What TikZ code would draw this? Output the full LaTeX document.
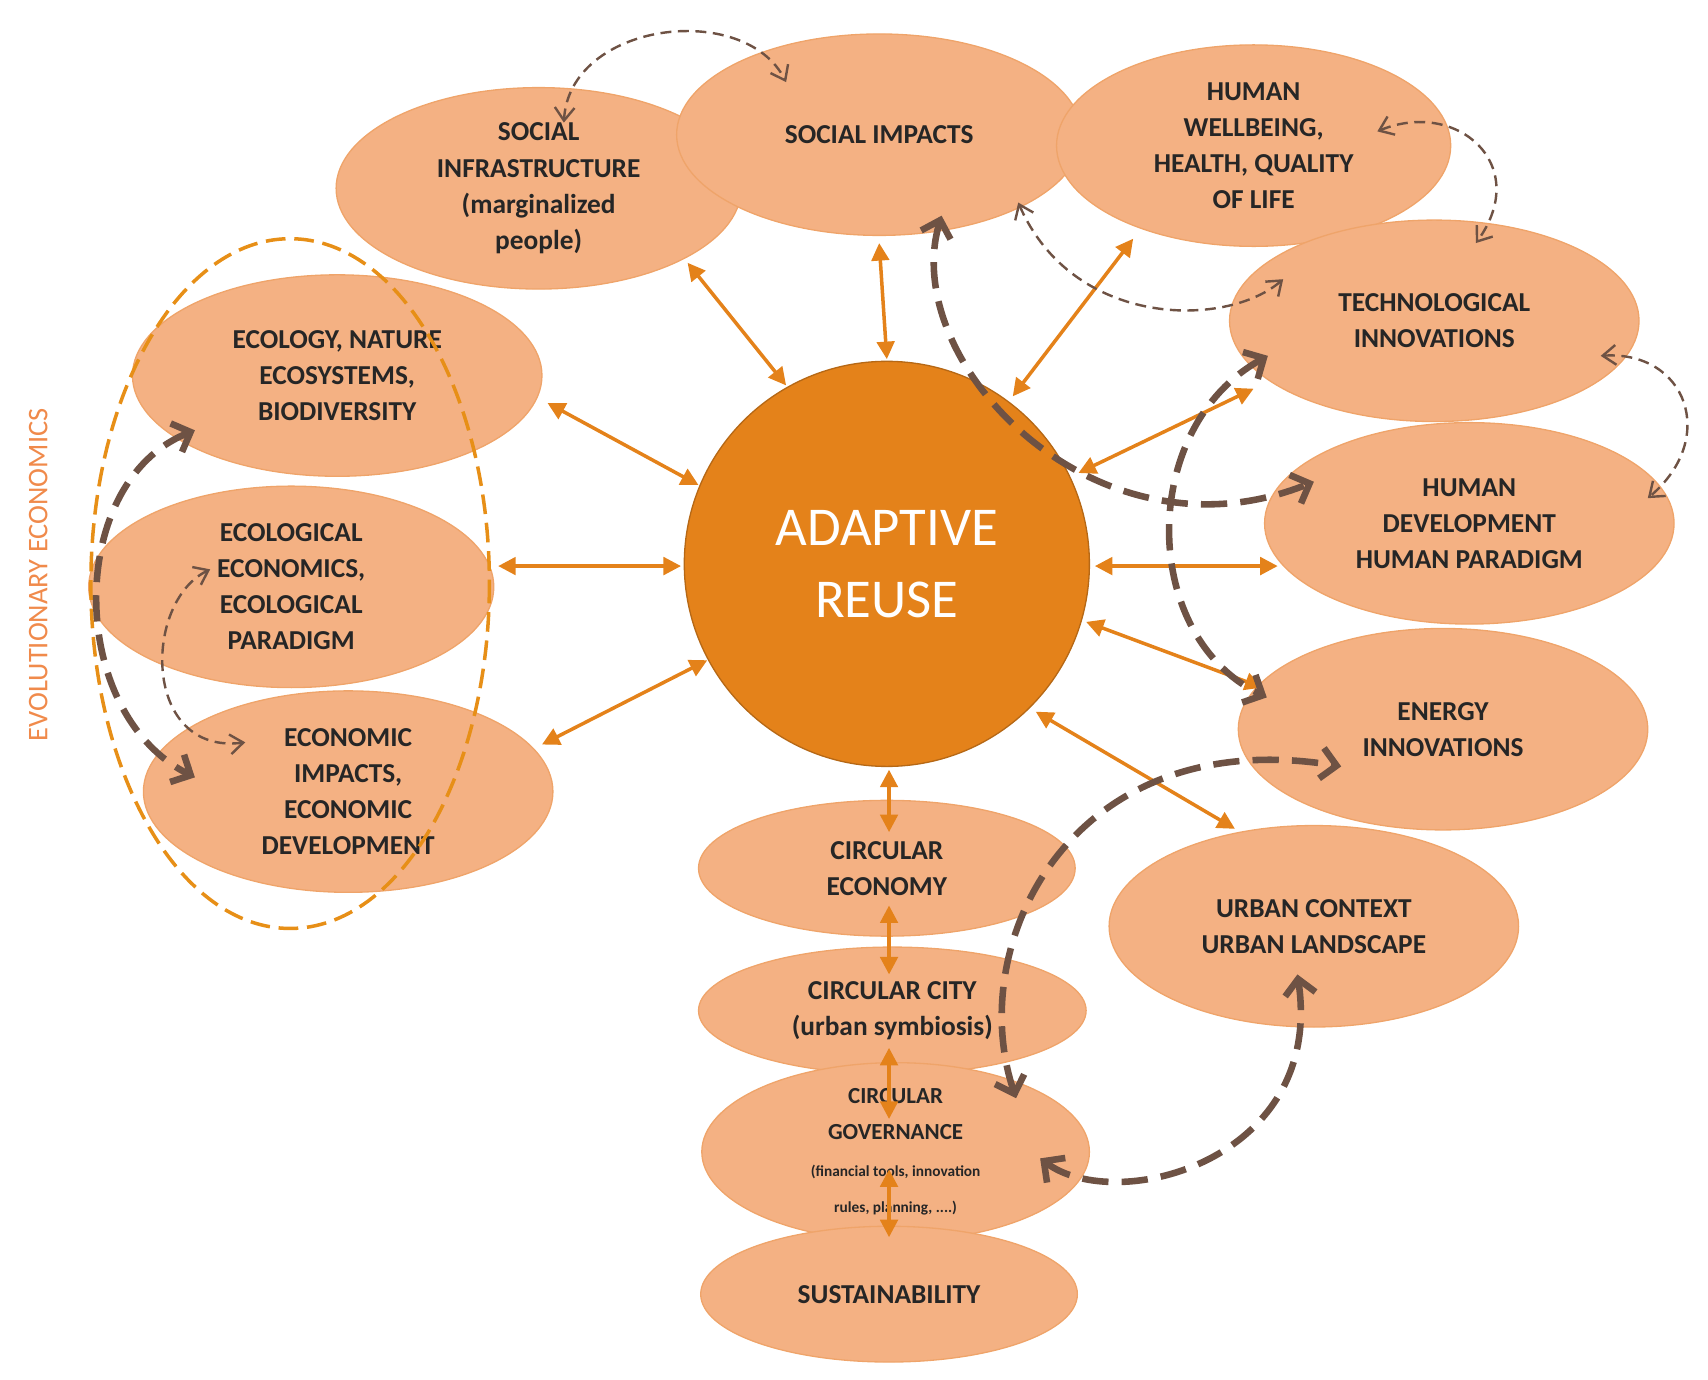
\documentclass[tikz,border=0pt]{standalone}
\usepackage{fontspec}
\setmainfont{Carlito}
\usetikzlibrary{shapes.geometric,arrows.meta}
\definecolor{peach}{HTML}{F4B183}
\definecolor{peachb}{HTML}{EFA46A}
\definecolor{org}{HTML}{E4821A}
\definecolor{brn}{HTML}{6E5244}
\definecolor{evo}{HTML}{F08A4B}
\begin{document}
\begin{tikzpicture}[x=0.5pt,y=-0.5pt,
 el/.style={ellipse,fill=peach,draw=peachb,line width=0.6pt,inner sep=0pt,align=center,
   font=\bfseries\fontsize{12.5}{16.5}\selectfont,text=black!85},
 oa/.style={org,line width=1.6pt,{Triangle[length=8pt,width=8pt]}-{Triangle[length=8pt,width=8pt]}},
 tb/.style={brn,line width=1.1pt,dash pattern=on 5pt off 3pt,{Straight Barb[length=6pt,width=9pt]}-{Straight Barb[length=6pt,width=9pt]}},
 bb/.style={brn,line width=3pt,dash pattern=on 12pt off 6pt,{Straight Barb[length=7pt,width=14pt]}-{Straight Barb[length=7pt,width=14pt]}}]
\useasboundingbox (0,0) rectangle (1560,1260);
\node[el,minimum width=185pt,minimum height=92pt] (si) at (492,172) {SOCIAL\\INFRASTRUCTURE\\(marginalized\\people)};
\node[el,minimum width=185pt,minimum height=92pt] (sim) at (803,123) {SOCIAL IMPACTS};
\node[el,minimum width=180pt,minimum height=92pt] (hw) at (1145,133) {HUMAN\\WELLBEING,\\HEALTH, QUALITY\\OF LIFE};
\node[el,minimum width=187pt,minimum height=92pt] (ti) at (1310,293) {TECHNOLOGICAL\\INNOVATIONS};
\node[el,minimum width=187pt,minimum height=92pt] (hd) at (1342,478) {HUMAN\\DEVELOPMENT\\HUMAN PARADIGM};
\node[el,minimum width=187pt,minimum height=92pt] (ei) at (1318,666) {ENERGY\\INNOVATIONS};
\node[el,minimum width=187pt,minimum height=92pt] (uc) at (1200,846) {URBAN CONTEXT\\URBAN LANDSCAPE};
\node[el,minimum width=187pt,minimum height=92pt] (eco) at (308,343) {ECOLOGY, NATURE\\ECOSYSTEMS,\\BIODIVERSITY};
\node[el,minimum width=185pt,minimum height=92pt] (ee) at (266,536) {ECOLOGICAL\\ECONOMICS,\\ECOLOGICAL\\PARADIGM};
\node[el,minimum width=187pt,minimum height=92pt] (eim) at (318,723) {ECONOMIC\\IMPACTS,\\ECONOMIC\\DEVELOPMENT};
\node[el,minimum width=172pt,minimum height=62pt] (ce) at (810,793) {CIRCULAR\\ECONOMY};
\node[el,minimum width=177pt,minimum height=58pt] (cc) at (815,923) {CIRCULAR CITY\\(urban symbiosis)};
\node[el,minimum width=177pt,minimum height=65pt] (cg) at (818,1052) {\fontsize{10.5}{14.5}\selectfont CIRCULAR\\\fontsize{10.5}{14.5}\selectfont GOVERNANCE\\\fontsize{7}{11}\selectfont (financial tools, innovation\\\fontsize{7}{11}\selectfont rules, planning, ....)};
\node[el,minimum width=172pt,minimum height=62pt] (su) at (812,1182) {SUSTAINABILITY};
\node[circle,fill=org,draw=org!80!black,line width=0.6pt,minimum size=185pt,inner sep=0pt,align=center,text=white,font=\fontsize{25}{33}\selectfont] (ar) at (810,515) {ADAPTIVE\\REUSE};
% evolutionary economics
\draw[org!90!yellow,line width=1.6pt,dash pattern=on 9pt off 4pt] (265,533) ellipse [x radius=182, y radius=315];
\node[rotate=90,text=evo,font=\fontsize{13}{15}\selectfont] (evt) at (35,525) {EVOLUTIONARY ECONOMICS};
% orange arrows
\coordinate (a1) at (628,240); \coordinate (b1) at (718,352);
\coordinate (a2) at (803,222); \coordinate (b2) at (810,328);
\coordinate (a3) at (1035,218); \coordinate (b3) at (925,362);
\coordinate (a4) at (500,368); \coordinate (b4) at (638,443);
\coordinate (a5) at (455,517); \coordinate (b5) at (622,517);
\coordinate (a6) at (495,680); \coordinate (b6) at (646,603);
\coordinate (a7) at (985,432); \coordinate (b7) at (1145,355);
\coordinate (a8) at (1000,517); \coordinate (b8) at (1167,517);
\coordinate (a9) at (992,568); \coordinate (b9) at (1153,628);
\coordinate (a10) at (946,650); \coordinate (b10) at (1128,757);
\coordinate (a11) at (812,703); \coordinate (b11) at (812,760);
\coordinate (a12) at (812,827); \coordinate (b12) at (812,890);
\coordinate (a13) at (812,957); \coordinate (b13) at (812,1022);
\coordinate (a14) at (812,1068); \coordinate (b14) at (812,1130);
\foreach \i in {1,...,14} {\draw[oa] (a\i) -- (b\i);}
% thin brown dashed
\coordinate (t1a) at (515,112); \coordinate (t1b) at (718,75);
\draw[tb] (t1a) .. controls (520,20) and (680,0) .. (t1b);
\coordinate (t2a) at (930,185); \coordinate (t2b) at (1172,255);
\draw[tb] (t2a) .. controls (980,300) and (1120,300) .. (t2b);
\coordinate (t3a) at (1258,120); \coordinate (t3b) at (1348,222);
\draw[tb] (t3a) .. controls (1330,90) and (1400,150) .. (t3b);
\coordinate (t4a) at (1462,325); \coordinate (t4b) at (1505,455);
\draw[tb] (t4a) .. controls (1540,320) and (1570,400) .. (t4b);
\coordinate (t5a) at (192,520); \coordinate (t5b) at (224,678);
\draw[tb] (t5a) .. controls (130,550) and (130,690) .. (t5b);
% thick brown dashed
\coordinate (k1a) at (178,393); \coordinate (k1b) at (178,710);
\draw[bb] (k1a) .. controls (60,440) and (60,650) .. (k1b);
\coordinate (k2a) at (860,197); \coordinate (k2b) at (1200,440);
\draw[bb] (k2a) .. controls (820,330) and (1000,520) .. (k2b);
\coordinate (k3a) at (1158,325); \coordinate (k3b) at (1157,637);
\draw[bb] (k3a) .. controls (1040,390) and (1040,580) .. (k3b);
\coordinate (k4a) at (928,1003); \coordinate (k4b) at (1225,700);
\draw[bb] (k4a) .. controls (880,860) and (980,660) .. (k4b);
\coordinate (k5a) at (950,1058); \coordinate (k5b) at (1185,890);
\draw[bb] (k5a) .. controls (1020,1110) and (1210,1060) .. (k5b);
\end{tikzpicture}
\end{document}
